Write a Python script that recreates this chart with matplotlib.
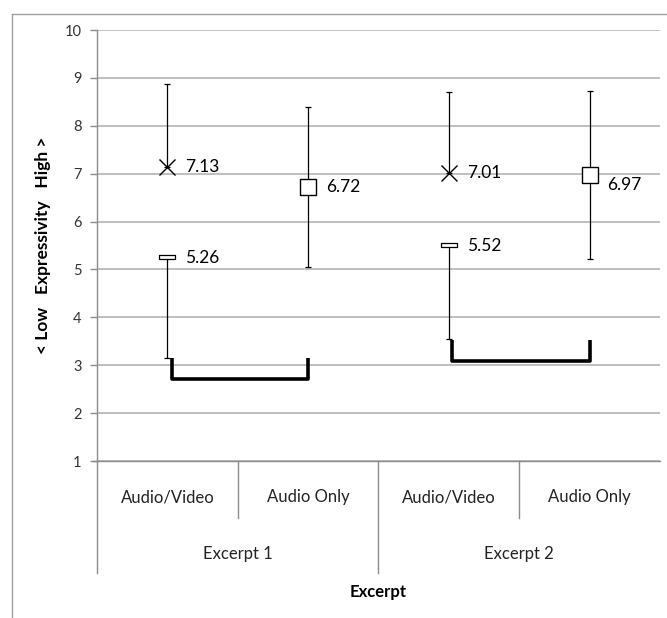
import matplotlib
matplotlib.use("Agg")
import matplotlib.pyplot as plt
from matplotlib.path import Path
from matplotlib.lines import Line2D
from matplotlib.transforms import blended_transform_factory

plt.rcParams['font.family'] = ['Lato', 'DejaVu Sans']

# ---- data ----
conditions = ["Audio/Video", "Audio Only", "Audio/Video", "Audio Only"]
excerpts = ["Excerpt 1", "Excerpt 2"]
positions = [0, 1, 2, 3]
means = [7.13, 6.72, 7.01, 6.97]
upper = [8.87, 8.39, 8.71, 8.72]
lower = [None, 5.05, None, 5.21]
low_pos = [0, 2]
low_vals = [5.26, 5.52]
low_bottom = [3.15, 3.55]
bracket_left = [0.03, 2.02]
bracket_right = [1.0, 3.0]
bracket_top = [3.15, 3.53]
bracket_bottom = [2.71, 3.08]
marker_types = ['x', 's', 'x', 's']
label_offsets = [(13, 0), (13, 0), (13, 0), (13, -7)]
yticks = list(range(1, 11))

grid_c = '#b4b4b4'
axis_c = '#8c8c8c'

fig = plt.figure(figsize=(6.67, 6.18), dpi=100)
ax = fig.add_axes([0.1454, 0.254, 0.844, 0.6974])
ax.set_xlim(-0.5, 3.5)
ax.set_ylim(1, 10)
ax.set_yticks(yticks)
ax.set_yticklabels([str(t) for t in yticks], fontsize=10.5, color='#333333')
ax.tick_params(axis='y', length=5, width=1, color=axis_c, direction='out', pad=6)
ax.set_xticks([])
for s in ['top', 'right']:
    ax.spines[s].set_visible(False)
for s in ['left', 'bottom']:
    ax.spines[s].set_color(axis_c)
    ax.spines[s].set_linewidth(1)
ax.yaxis.grid(True, color=grid_c, linewidth=1.2)
ax.set_axisbelow(True)

# main markers + error bars
for p, m, u, lo, mk, off in zip(positions, means, upper, lower, marker_types, label_offsets):
    lo_err = 0 if lo is None else m - lo
    ax.errorbar([p], [m], yerr=[[lo_err], [u - m]], fmt='none', ecolor='black',
                elinewidth=0.9, capsize=2.5, capthick=0.9, zorder=3)
    if mk == 'x':
        ax.plot([p], [m], marker='x', markersize=11, markeredgewidth=1.0,
                color='black', linestyle='none', zorder=4)
    else:
        ax.plot([p], [m], marker='s', markersize=11, markeredgewidth=1.0,
                markerfacecolor='white', markeredgecolor='black', linestyle='none', zorder=4)
    ax.annotate(f"{m:.2f}", (p, m), xytext=off, textcoords='offset points',
                ha='left', va='center', fontsize=12.5, color='black')

# low dash markers
dash = Path([(-1, -0.2), (1, -0.2), (1, 0.2), (-1, 0.2), (-1, -0.2)],
            [Path.MOVETO, Path.LINETO, Path.LINETO, Path.LINETO, Path.CLOSEPOLY])
for p, v, b in zip(low_pos, low_vals, low_bottom):
    ax.errorbar([p], [v], yerr=[[v - b], [0]], fmt='none', ecolor='black',
                elinewidth=0.9, capsize=2.5, capthick=0.9, zorder=3)
    ax.plot([p], [v], marker=dash, markersize=12, markeredgewidth=0.9,
            markerfacecolor='white', markeredgecolor='black', linestyle='none', zorder=4)
    ax.annotate(f"{v:.2f}", (p, v), xytext=(13, -1), textcoords='offset points',
                ha='left', va='center', fontsize=12.5, color='black')

# brackets
for xl, xr, yt, yb in zip(bracket_left, bracket_right, bracket_top, bracket_bottom):
    ax.plot([xl, xl, xr, xr], [yt, yb, yb, yt], color='black', linewidth=2.6,
            solid_joinstyle='round', solid_capstyle='butt', zorder=5)

# category axis
tr = blended_transform_factory(ax.transData, ax.transAxes)
for i, lab in enumerate(conditions):
    ax.text(positions[i], -0.0835, lab, transform=tr, ha='center', va='center',
            fontsize=12, color='#222222')
for j, lab in enumerate(excerpts):
    ax.text(positions[2 * j] + 0.5, -0.216, lab, transform=tr, ha='center', va='center',
            fontsize=12, color='#222222')
for xs in [0.5, 2.5]:
    ax.plot([xs, xs], [0, -0.132], transform=tr, color=axis_c, linewidth=1, clip_on=False)
for xs in [-0.5, 1.5]:
    ax.plot([xs, xs], [0, -0.26], transform=tr, color=axis_c, linewidth=1, clip_on=False)
ax.plot([-0.53, -0.5], [0, 0], transform=tr, color=axis_c, linewidth=1, clip_on=False)

ax.text(0.5, -0.304, "Excerpt", transform=ax.transAxes, ha='center', va='center',
        fontsize=12, fontweight='bold', color='black')
ax.text(-0.096, 0.5, "< Low   Expressivity   High >", transform=ax.transAxes,
        ha='center', va='center', rotation=90, fontsize=12.5, fontweight='bold', color='black')

# outer chart frame (cropped)
fig.add_artist(Line2D([12 / 667, 12 / 667], [0, 1 - 14 / 618], color='#a0a0a0', linewidth=1))
fig.add_artist(Line2D([12 / 667, 1], [1 - 14 / 618, 1 - 14 / 618], color='#a0a0a0', linewidth=1))

fig.savefig("out.png", dpi=100, facecolor='white')
